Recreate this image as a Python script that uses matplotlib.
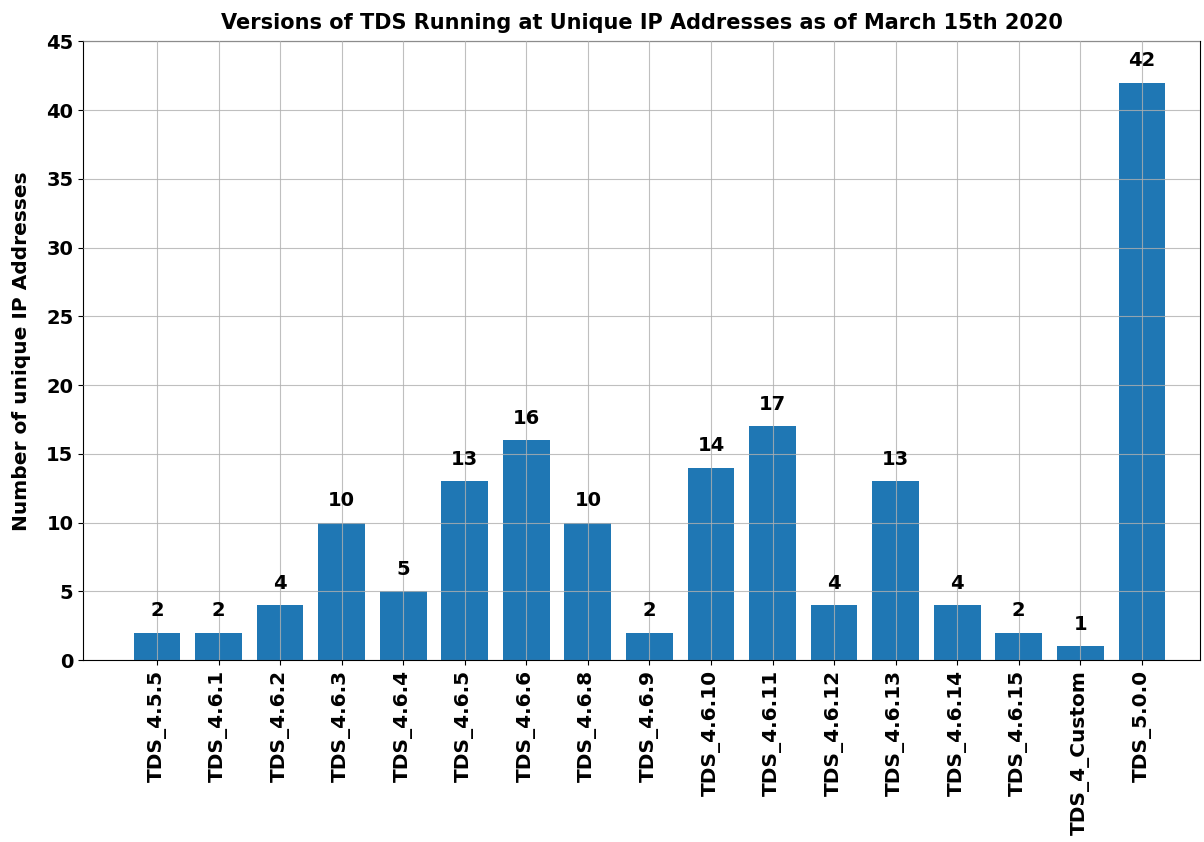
import numpy as np
import matplotlib
matplotlib.use("Agg")
import matplotlib.pyplot as plt

# datos
versiones = ["TDS_4.5.5", "TDS_4.6.1", "TDS_4.6.2", "TDS_4.6.3", "TDS_4.6.4",
             "TDS_4.6.5", "TDS_4.6.6", "TDS_4.6.8", "TDS_4.6.9", "TDS_4.6.10",
             "TDS_4.6.11", "TDS_4.6.12", "TDS_4.6.13", "TDS_4.6.14", "TDS_4.6.15",
             "TDS_4_Custom", "TDS_5.0.0"]
cantidades = [2, 2, 4, 10, 5, 13, 16, 10, 2, 14, 17, 4, 13, 4, 2, 1, 42]

fig = plt.figure(figsize=(12.04, 8.42), dpi=100)
ax = fig.add_axes([0.069, 0.216, 0.928, 0.735])

x = np.arange(len(versiones))
barras = ax.bar(x, cantidades, width=0.76, color="#1f77b4", zorder=1)

# grilla por encima de las barras
ax.set_axisbelow(False)
ax.grid(True, color="#b0b0b0", linewidth=0.8, alpha=0.8)

for xi, v in zip(x, cantidades):
    ax.annotate(str(v), (xi, v), xytext=(0, 9), textcoords="offset points",
                ha="center", va="bottom", fontsize=14, fontweight="bold")

ax.set_xticks(x)
ax.set_xticklabels(versiones, rotation=90, fontsize=14.5, fontweight="bold")
ax.set_yticks(np.arange(0, 50, 5))
for lbl in ax.get_yticklabels():
    lbl.set_fontsize(14)
    lbl.set_fontweight("bold")
ax.set_xlim(-1.2, 16.95)
ax.set_ylim(0, 45)
ax.set_ylabel("Number of unique IP Addresses", fontsize=14.5, fontweight="bold",
              labelpad=11)
ax.set_title("Versions of TDS Running at Unique IP Addresses as of March 15th 2020",
             fontsize=15, fontweight="bold", pad=9)

fig.savefig("out.png", dpi=100)
